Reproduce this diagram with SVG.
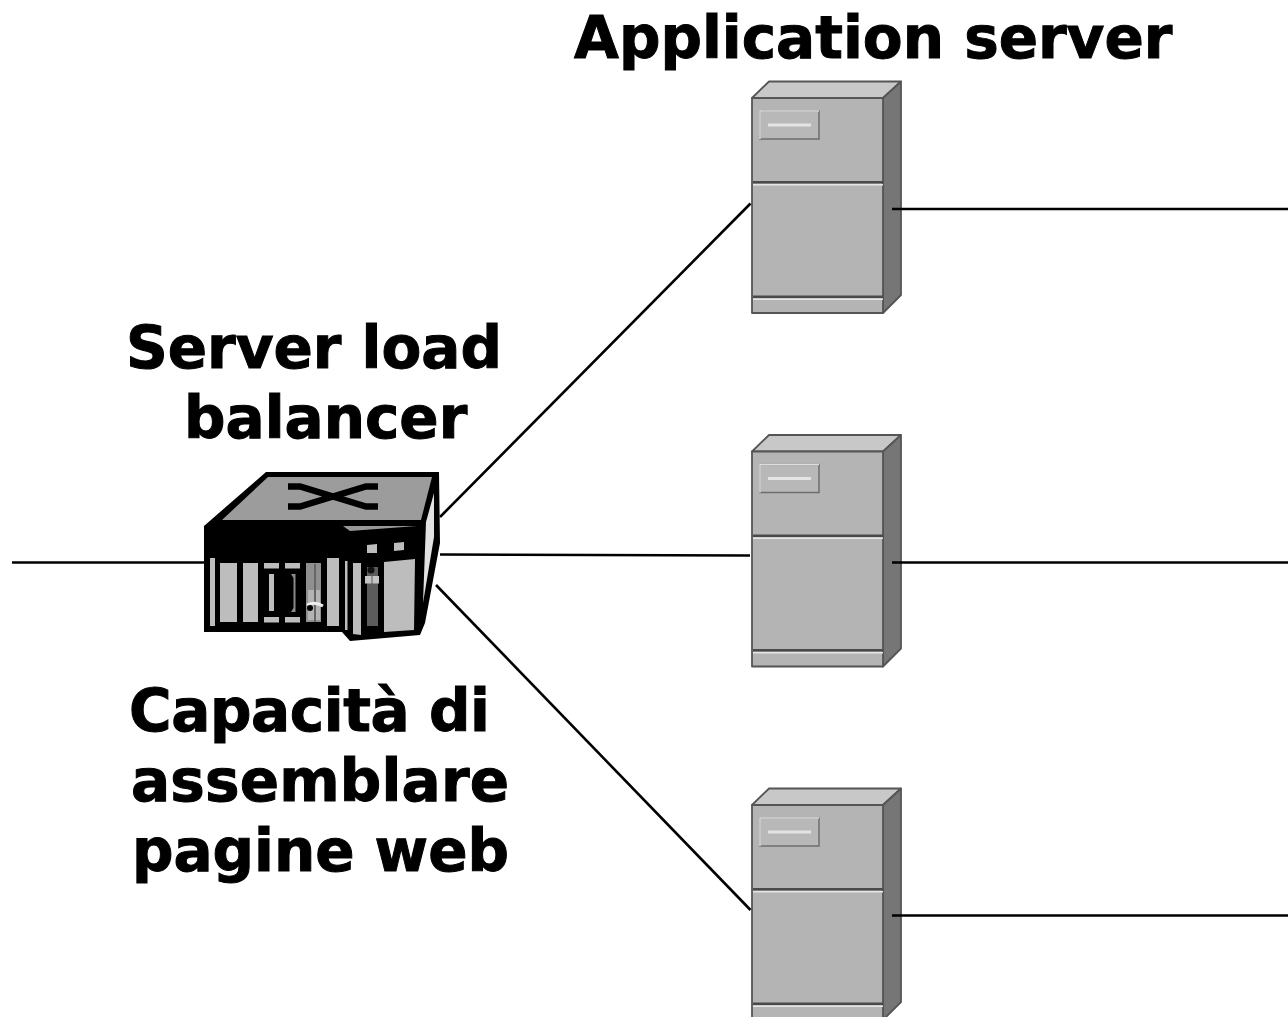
<svg xmlns="http://www.w3.org/2000/svg" xmlns:xlink="http://www.w3.org/1999/xlink" width="1288" height="1017" viewBox="0 0 1288 1017">
<style>
.t{font-family:"DejaVu Sans",Verdana,sans-serif;font-weight:700;font-size:58px;fill:#000;stroke:#000;stroke-width:1}
.c{fill:none;stroke:#000;stroke-width:2.6}
.s{stroke:#555;stroke-width:1.8;stroke-linejoin:round}
.lg{fill:#b4b4b4}
</style>
<defs>
<g id="srv">
<polygon class="s" points="752,98 769,81.500 901,81.500 883,98" fill="#c8c8c8"/>
<polygon class="s" points="883,98 901,81.500 901,295 883,313" fill="#767676"/>
<rect class="s lg" x="752" y="98" width="131" height="215"/>
<rect x="753" y="181" width="130" height="2.500" fill="#4a4a4a"/>
<rect x="753" y="184" width="130" height="1.500" fill="#e6e6e6"/>
<rect x="753" y="295.500" width="130" height="2.500" fill="#4a4a4a"/>
<rect x="753" y="298.500" width="130" height="1.500" fill="#e6e6e6"/>
<rect x="760" y="111" width="59" height="28" fill="#b8b8b8" stroke="#6e6e6e" stroke-width="1.500"/>
<path d="M760 139V111H819" fill="none" stroke="#dedede" stroke-width="1.500"/>
<rect x="768" y="123.500" width="43" height="3" fill="#e4e4e4"/>
</g>
</defs>
<g id="server-1"><use href="#srv" xlink:href="#srv"/></g>
<g id="server-2"><use href="#srv" xlink:href="#srv" y="353.500"/></g>
<g id="server-3"><use href="#srv" xlink:href="#srv" y="707"/></g>
<g id="connectors">
<path class="c" d="M12 562.500H206"/>
<path class="c" d="M440 517L750.500 203.500"/>
<path class="c" d="M440 554.500L750 555.500"/>
<path class="c" d="M436 585L750.500 910"/>
<path class="c" d="M892 209H1288"/>
<path class="c" d="M892 562.500H1288"/>
<path class="c" d="M892 915.500H1288"/>
</g>
<g id="load-balancer">
<polygon points="204,526 266,472 439,472 440,543 425,623 420,635 350,641 342,632 204,632" fill="#000"/>
<polygon points="222,520 268,477 432,477 421,520" fill="#9c9c9c"/>
<polygon points="434,493 426,522 423,603 434,537" fill="#e2e2e2"/>
<polygon points="343,526 417,526 350,531" fill="#999"/>
<path d="M288,486.500 H300 L366,506.500 H378 M288,506.500 H300 L366,486.500 H378" fill="none" stroke="#000" stroke-width="6.500"/>
<g fill="#bdbdbd">
<rect x="210" y="558" width="5" height="68"/>
<rect x="220" y="563" width="17" height="59"/>
<rect x="243" y="563" width="15" height="59"/>
<rect x="264" y="563" width="15" height="5.500"/>
<rect x="285" y="563" width="15" height="5.500"/>
<rect x="264" y="617" width="15" height="5.500"/>
<rect x="285" y="617" width="15" height="5.500"/>
<rect x="269" y="574" width="5" height="37"/>
<rect x="327" y="558" width="12" height="68"/>
<rect x="345" y="561" width="2.500" height="69"/>
<polygon points="353,563 361,563 361,635 353,634"/>
<polygon points="384,562 415,559 414,630 384,632"/>
<polygon points="367,545 377,544 377,553 367,553"/>
<polygon points="394,543 404,542 404,550 394,551"/>
</g>
<path d="M291,574H295.500V612H291L293.500,608V578Z" fill="#8a8a8a"/>
<rect x="306" y="563" width="15" height="59" fill="#909090"/>
<rect x="308" y="590" width="12" height="30" fill="#b4b4b4"/>
<rect x="314" y="564" width="2" height="58" fill="#666"/>
<path d="M307 605Q315 601 323 606" fill="none" stroke="#eee" stroke-width="3"/>
<circle cx="310" cy="608" r="3" fill="#000"/>
<rect x="367" y="567" width="11" height="59" fill="#5c5c5c"/>
<circle cx="371" cy="570" r="3.500" fill="#111"/>
<rect x="365" y="576" width="6.500" height="7.500" fill="#c4c4c4"/>
<rect x="372.500" y="576" width="6.500" height="7.500" fill="#c4c4c4"/>
</g>
<g id="labels">
<text class="t" x="574" y="58">Application server</text>
<text class="t" x="126" y="368" textLength="376">Server load</text>
<text class="t" x="184" y="438">balancer</text>
<text class="t" x="129" y="731" textLength="361">Capacità di</text>
<text class="t" x="131" y="801" textLength="378">assemblare</text>
<text class="t" x="132" y="871" textLength="377">pagine web</text>
</g>
</svg>
